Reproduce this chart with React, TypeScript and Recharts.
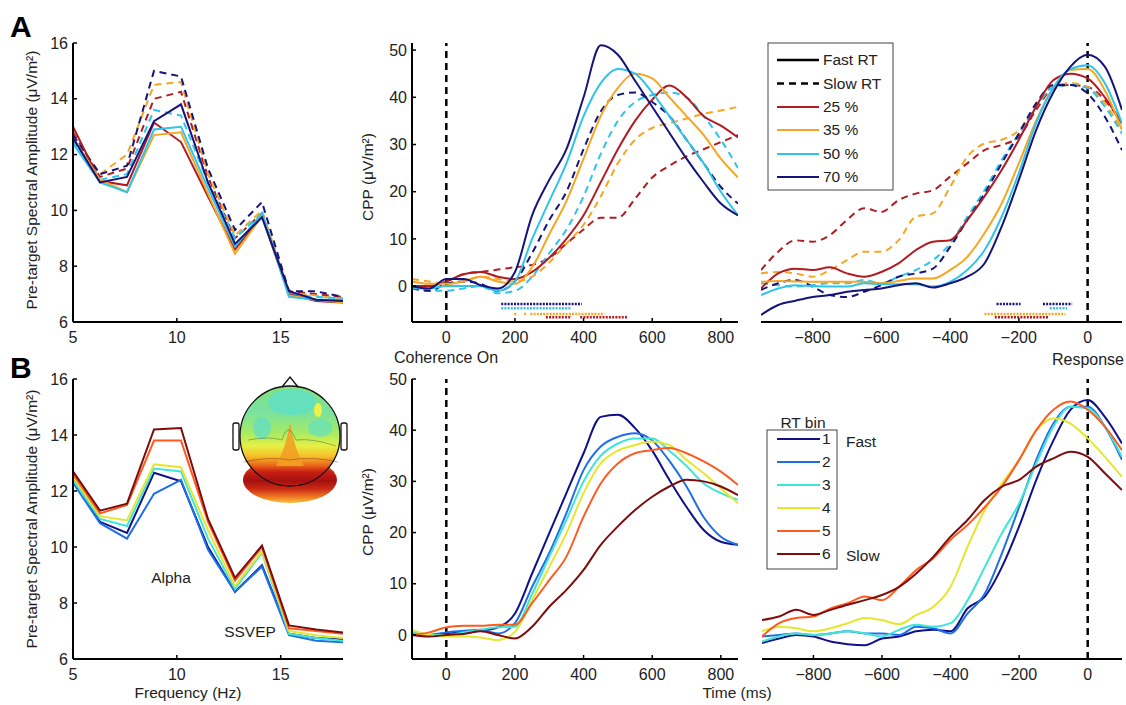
import React from 'react';
import { LineChart, Line, XAxis, YAxis, ReferenceLine } from 'recharts';

const FONT = '"Liberation Sans", Arial, Helvetica, sans-serif';

// ---- spectra (panel A/B left) ----
const freqHz = [5, 6.3, 7.6, 8.9, 10.2, 11.5, 12.8, 14.1, 15.4, 16.7, 18];

const specFast25 = [13.0, 11.05, 10.9, 13.15, 12.45, 10.5, 8.6, 9.8, 7.0, 6.75, 6.7];
const specFast35 = [12.6, 11.1, 10.65, 12.7, 12.8, 10.6, 8.45, 9.8, 6.95, 6.8, 6.7];
const specFast50 = [12.4, 11.0, 10.65, 12.9, 13.0, 10.8, 8.7, 9.9, 6.9, 6.8, 6.8];
const specFast70 = [12.6, 11.0, 11.2, 13.2, 13.8, 11.0, 8.8, 9.75, 7.1, 6.8, 6.75];
const specSlow25 = [12.8, 11.2, 11.5, 14.0, 14.25, 11.2, 9.0, 9.9, 7.1, 7.0, 6.9];
const specSlow35 = [12.7, 11.3, 12.0, 14.5, 14.6, 11.3, 9.1, 10.0, 7.05, 6.95, 6.8];
const specSlow50 = [12.5, 11.1, 11.3, 13.6, 13.4, 11.0, 9.0, 9.9, 7.0, 6.9, 6.85];
const specSlow70 = [12.7, 11.3, 11.6, 15.0, 14.8, 11.5, 9.3, 10.3, 7.1, 7.1, 6.9];

const specBin1 = [12.5, 10.9, 10.5, 12.65, 12.35, 10.0, 8.4, 9.35, 6.9, 6.75, 6.7];
const specBin2 = [12.3, 10.85, 10.3, 11.9, 12.4, 9.9, 8.4, 9.3, 6.85, 6.65, 6.6];
const specBin3 = [12.4, 11.0, 10.75, 12.8, 12.7, 10.3, 8.5, 9.8, 6.9, 6.75, 6.65];
const specBin4 = [12.5, 11.1, 10.95, 12.95, 12.85, 10.6, 8.6, 9.85, 7.0, 6.85, 6.75];
const specBin5 = [12.6, 11.2, 11.5, 13.8, 13.8, 10.9, 8.8, 10.0, 7.1, 7.0, 6.9];
const specBin6 = [12.7, 11.3, 11.55, 14.2, 14.25, 11.0, 8.9, 10.05, 7.2, 7.05, 6.95];

// ---- coherence-onset locked CPP (ms) ----
const tOnset = [-100, -50, 0, 50, 100, 150, 200, 250, 300, 350, 400, 450, 500, 550, 600, 650, 700, 750, 800, 850];

const onFast25 = [0, 0, 1, 2.5, 3, 2, 1.5, 3, 6, 10, 15, 22, 29, 35, 39.5, 42.5, 40, 36, 34, 31.5];
const onFast35 = [1, 0.5, 0.5, 1, 2, 1, 0.5, 4, 11, 18, 27, 36, 42, 45, 44, 40, 36, 32, 27, 23];
const onFast50 = [-0.5, -0.5, 0, 0, 0, -1, 1, 10, 18, 26, 36, 43, 46, 45, 41, 36, 31, 26, 20, 15];
const onFast70 = [0, -0.5, 1.5, 1.5, 0.2, -0.5, 3, 15, 22.5, 29, 40, 51, 49, 43.5, 38, 32.5, 27, 22, 17.5, 15];
const onSlow25 = [-0.5, 0, 1, 2.5, 3, 3.5, 4, 4.5, 6, 9, 12, 14.5, 14.5, 18.5, 23, 25.5, 27.5, 29, 30.5, 32];
const onSlow35 = [1.5, 1, 0.5, 1, 2, 1.5, 1, 2, 5, 9, 13, 19, 26, 31, 33.5, 34.5, 35.5, 36.5, 37.2, 38];
const onSlow50 = [0, -1, -1, -0.5, 0, -1.5, -1, 2, 7, 12, 19, 28, 35, 39, 40.5, 41, 40, 36, 31, 25];
const onSlow70 = [-0.5, -1, 0.5, 1, 0.5, -1, 1, 7, 14, 20, 29, 37, 40.5, 41, 39, 36, 31, 26, 21, 17.5];

const binOn1 = [0.3, 0, 0.3, 0.5, 0.8, 1.5, 4.2, 12, 19.9, 27.7, 35.5, 42.6, 43, 40.4, 36, 30.3, 25, 20.5, 18.2, 17.6];
const binOn2 = [0.5, 0, 0.5, 0.8, 1, 0.3, 2.3, 9.4, 16, 23.8, 32.2, 36.8, 38.7, 39.4, 38, 34, 29, 23, 19.2, 17.6];
const binOn3 = [0.5, 0, 0, 0.5, 1, 1.5, 1.6, 8, 15.3, 22.5, 30, 35, 37.4, 38.4, 38.4, 36, 33, 29.6, 27.7, 26.4];
const binOn4 = [1, 0, -0.3, -0.3, -0.5, -1, 0.6, 6.8, 13.3, 19.9, 27.7, 33.5, 36, 37.1, 37.8, 37.1, 34.2, 31.6, 28.6, 25.7];
const binOn5 = [0, 0.5, 1.5, 1.8, 1.8, 2, 2, 6.2, 10.7, 15.3, 23.1, 29.6, 33.5, 35.5, 36.1, 36.5, 35.5, 33.9, 31.9, 29.3];
const binOn6 = [0, -0.3, 0, 0.2, 0.7, 0, -0.7, 1.6, 5.5, 8.8, 12.7, 17.6, 21.2, 24.4, 27, 29, 30.3, 30, 29, 27.3];

// ---- response locked CPP (ms) ----
const tResp = [-950, -900, -850, -800, -750, -700, -650, -600, -550, -500, -450, -400, -350, -300, -250, -200, -150, -100, -50, 0, 50, 100];

const rFast25 = [-0.5, 2.7, 3.7, 3.4, 4, 2.7, 2, 3, 4.8, 7.6, 9.4, 9.7, 14, 19, 24.6, 31, 38, 43.6, 45, 44, 40, 34.5];
const rFast35 = [0.9, 1.1, 1, 0.9, 0.9, 0.9, 0.9, 0.6, 1.1, 1.6, 1.6, 3.4, 6.2, 11.2, 17.5, 26, 35, 42, 45.8, 46, 41.5, 33];
const rFast50 = [-1.9, -0.5, 0.2, 0, -0.1, -0.1, 0.6, 0.4, 0.4, 0.4, -0.1, 0.9, 3.4, 7.6, 14.7, 24, 34.5, 42, 46, 46.8, 43, 34.5];
const rFast70 = [-6.1, -4, -3.1, -2.3, -1.9, -1.2, -0.8, -0.5, 0.2, 0.6, -0.3, 0.6, 2, 4.8, 12.6, 22.5, 33, 41, 46.5, 49, 46.5, 37.3];
const rSlow25 = [3.4, 7.3, 9.7, 9.4, 10.8, 14, 16.5, 15.7, 18.2, 19.6, 20.3, 23.2, 26, 28.8, 29.9, 31.6, 37.3, 41.9, 42.6, 42.2, 39.4, 34.5];
const rSlow35 = [2.7, 3, 2.7, 2, 3.4, 5.5, 7.3, 7.3, 9.7, 14.7, 15.4, 21, 27.4, 30.2, 31, 33, 38, 42.2, 43, 42.2, 38.7, 33];
const rSlow50 = [0.6, 0.2, -0.1, 0.2, 0.6, 0.6, 1.3, 0.6, 2, 3.4, 5.5, 9, 14.7, 20.3, 26.7, 32.3, 38, 42.2, 42.6, 41.9, 38, 32.3];
const rSlow70 = [-0.8, 0.6, 1.3, -0.1, -1.9, -2.3, -1.2, 0.2, 2, 2.7, 3.7, 8.3, 14, 19.6, 26, 32.3, 38.7, 42.6, 42.6, 40.8, 35.9, 28.8];

const binR1 = [-1.6, -0.7, 0, -0.3, -1.3, -1.8, -2, -0.7, -0.3, 0.7, 1, 0.7, 5.2, 7.5, 13.3, 21.2, 30.3, 38, 44, 45.9, 42.6, 37.4];
const binR2 = [-0.3, 0, 0.3, 0, 0.3, 0.7, 0.3, 0.3, 0, 1.6, 1.3, 0.3, 4.2, 8.1, 16, 25, 34.2, 41.3, 44.6, 44.6, 40.7, 34.2];
const binR3 = [-1.3, -0.3, 0.3, 0, 0.3, 0.7, 0.3, -0.3, 1, 2, 1.6, 2.3, 6.8, 13.3, 19.9, 25.7, 33.5, 40.7, 44.6, 44.3, 40.7, 34.8];
const binR4 = [0.7, 1.6, 1.3, 0.7, 1.3, 2.3, 3.3, 2.9, 2.1, 3.9, 5.5, 9.4, 17.3, 24.4, 29.6, 34.2, 40, 42.3, 41.3, 38.4, 34.8, 30.9];
const binR5 = [-0.3, 2.3, 3.3, 3.6, 5.2, 6.2, 7.5, 6.8, 9.4, 12.7, 15, 18.6, 21.5, 25, 29, 34.2, 40, 44, 45.6, 44, 40.7, 36.1];
const binR6 = [2.9, 3.6, 4.9, 3.9, 4.9, 5.9, 6.8, 7.8, 9.4, 12, 15.3, 19.2, 22.5, 26.4, 29, 30.3, 32.9, 34.5, 35.8, 34.8, 31.6, 28.3];

// significance rows: [start, end] in ms, one row per coherence
const sigLevels = [-3.8, -4.7, -5.9, -6.6]; // 70, 50, 35, 25 %
const sigOn70 = [[160, 395]];
const sigOn50 = [[160, 365]];
const sigOn35 = [[198, 204], [227, 233], [245, 460]];
const sigOn25 = [[290, 365], [390, 530]];
const sigR70 = [[-265, -195], [-130, -45]];
const sigR50 = [[-110, -60]];
const sigR35 = [[-300, -65]];
const sigR25 = [[-270, -115]];

const cohLabels = ['25 %', '35 %', '50 %', '70 %'];
const binLabels = ['1', '2', '3', '4', '5', '6'];

const COH = ['#b01c22', '#f5a623', '#2ec4ec', '#14147a'];
const BIN = ['#10108a', '#1f6fe8', '#3fe6d6', '#e6e62e', '#ff5a1f', '#7d0d0d'];

type Pt = { x: number; y: number };
const pts = (xs: number[], ys: number[]): Pt[] => xs.map((x, i) => ({ x, y: ys[i] }));

interface Series { id: string; xs: number[]; ys: number[]; color: string; dashed?: boolean }
interface Sig { level: number; color: string; spans: number[][] }

const minus = (v: number) => (v < 0 ? '\u2212' + Math.abs(v) : String(v));

const tickStyle = { fill: '#222', fontSize: 16, fontFamily: FONT };

function Panel(props: {
  x: number; y: number; w: number; h: number;
  xDomain: number[]; yDomain: number[]; xTicks: number[]; yTicks?: number[];
  series: Series[]; sig?: Sig[]; zero?: boolean; curve: 'linear' | 'monotone';
}) {
  const { x, y, w, h, xDomain, yDomain, xTicks, yTicks, series, sig = [], zero, curve } = props;
  const top = 12, right = 14, xh = 40;
  const yw = yTicks ? 60 : 0;
  return (
    <div style={{ position: 'absolute', left: x - yw, top: y - top }}>
      <LineChart width={w + yw + right} height={h + top + xh} margin={{ top, right, bottom: 0, left: 0 }}>
        <XAxis
          type="number" dataKey="x" domain={xDomain} ticks={xTicks} interval={0} allowDataOverflow
          height={xh} tickSize={-4} tickMargin={14} tickFormatter={minus}
          axisLine={{ stroke: '#000', strokeWidth: 2 }} tickLine={{ stroke: '#000', strokeWidth: 1.5 }}
          tick={tickStyle}
        />
        <YAxis
          type="number" dataKey="y" domain={yDomain} ticks={yTicks} interval={0} allowDataOverflow
          width={yw} hide={!yTicks} tickSize={-4} tickMargin={9}
          axisLine={{ stroke: '#000', strokeWidth: 2 }} tickLine={{ stroke: '#000', strokeWidth: 1.5 }}
          tick={tickStyle}
        />
        {zero && <ReferenceLine x={0} stroke="#000" strokeWidth={2.5} strokeDasharray="7 5" />}
        {series.map((s) => (
          <Line
            key={s.id} data={pts(s.xs, s.ys)} dataKey="y" type={curve} stroke={s.color}
            strokeWidth={2} strokeDasharray={s.dashed ? '7 5' : undefined}
            dot={false} activeDot={false} isAnimationActive={false}
          />
        ))}
        {sig.flatMap((g, gi) =>
          g.spans.map((sp, si) => (
            <Line
              key={`sig${gi}-${si}`} data={[{ x: sp[0], y: g.level }, { x: sp[1], y: g.level }]}
              dataKey="y" type="linear" stroke={g.color} strokeWidth={2.6} strokeDasharray="2 1.2"
              dot={false} activeDot={false} isAnimationActive={false}
            />
          ))
        )}
      </LineChart>
    </div>
  );
}

const specA: Series[] = [
  { id: 's25', xs: freqHz, ys: specSlow25, color: COH[0], dashed: true },
  { id: 's35', xs: freqHz, ys: specSlow35, color: COH[1], dashed: true },
  { id: 's50', xs: freqHz, ys: specSlow50, color: COH[2], dashed: true },
  { id: 's70', xs: freqHz, ys: specSlow70, color: COH[3], dashed: true },
  { id: 'f25', xs: freqHz, ys: specFast25, color: COH[0] },
  { id: 'f35', xs: freqHz, ys: specFast35, color: COH[1] },
  { id: 'f50', xs: freqHz, ys: specFast50, color: COH[2] },
  { id: 'f70', xs: freqHz, ys: specFast70, color: COH[3] },
];
const onsetA: Series[] = [
  { id: 's25', xs: tOnset, ys: onSlow25, color: COH[0], dashed: true },
  { id: 's35', xs: tOnset, ys: onSlow35, color: COH[1], dashed: true },
  { id: 's50', xs: tOnset, ys: onSlow50, color: COH[2], dashed: true },
  { id: 's70', xs: tOnset, ys: onSlow70, color: COH[3], dashed: true },
  { id: 'f25', xs: tOnset, ys: onFast25, color: COH[0] },
  { id: 'f35', xs: tOnset, ys: onFast35, color: COH[1] },
  { id: 'f50', xs: tOnset, ys: onFast50, color: COH[2] },
  { id: 'f70', xs: tOnset, ys: onFast70, color: COH[3] },
];
const respA: Series[] = [
  { id: 's25', xs: tResp, ys: rSlow25, color: COH[0], dashed: true },
  { id: 's35', xs: tResp, ys: rSlow35, color: COH[1], dashed: true },
  { id: 's50', xs: tResp, ys: rSlow50, color: COH[2], dashed: true },
  { id: 's70', xs: tResp, ys: rSlow70, color: COH[3], dashed: true },
  { id: 'f25', xs: tResp, ys: rFast25, color: COH[0] },
  { id: 'f35', xs: tResp, ys: rFast35, color: COH[1] },
  { id: 'f50', xs: tResp, ys: rFast50, color: COH[2] },
  { id: 'f70', xs: tResp, ys: rFast70, color: COH[3] },
];
const specB = [specBin1, specBin2, specBin3, specBin4, specBin5, specBin6].map((ys, i) => ({ id: 'b' + i, xs: freqHz, ys, color: BIN[i] }));
const onsetB = [binOn1, binOn2, binOn3, binOn4, binOn5, binOn6].map((ys, i) => ({ id: 'b' + i, xs: tOnset, ys, color: BIN[i] }));
const respB = [binR1, binR2, binR3, binR4, binR5, binR6].map((ys, i) => ({ id: 'b' + i, xs: tResp, ys, color: BIN[i] }));

const sigOnset: Sig[] = [
  { level: sigLevels[0], color: COH[3], spans: sigOn70 },
  { level: sigLevels[1], color: COH[2], spans: sigOn50 },
  { level: sigLevels[2], color: COH[1], spans: sigOn35 },
  { level: sigLevels[3], color: COH[0], spans: sigOn25 },
];
const sigResp: Sig[] = [
  { level: sigLevels[0], color: COH[3], spans: sigR70 },
  { level: sigLevels[1], color: COH[2], spans: sigR50 },
  { level: sigLevels[2], color: COH[1], spans: sigR35 },
  { level: sigLevels[3], color: COH[0], spans: sigR25 },
];

function Topo() {
  const stops: [number, string][] = [
    [386, '#86e07a'], [412, '#78e2a0'], [432, '#a4ea66'], [446, '#e6f044'], [456, '#f7c02a'],
    [465, '#ea6a1a'], [472, '#c81e14'], [481, '#a51010'], [489, '#cc2a14'], [497, '#f07a22'], [506, '#f8e850'],
  ];
  return (
    <g>
      <defs>
        <linearGradient id="topoG" gradientUnits="userSpaceOnUse" x1={0} y1={386} x2={0} y2={506}>
          {stops.map(([yy, c]) => <stop key={yy} offset={(yy - 386) / 120} stopColor={c} />)}
        </linearGradient>
      </defs>
      <ellipse cx={290} cy={480} rx={47} ry={23} fill="url(#topoG)" />
      <circle cx={290} cy={436} r={50} fill="url(#topoG)" />
      <ellipse cx={292} cy={402} rx={24} ry={13} fill="#5fdfc4" opacity={0.85} />
      <ellipse cx={262} cy={428} rx={9} ry={11} fill="#64dfc0" opacity={0.8} />
      <ellipse cx={320} cy={428} rx={12} ry={9} fill="#64dfc0" opacity={0.7} />
      <ellipse cx={318} cy={410} rx={4} ry={7} fill="#eef048" />
      <path d="M276 466 Q286 448 290 422 Q294 448 304 466 Z" fill="#f2a024" opacity={0.9} />
      <path d="M248 440 Q270 436 282 440 Q288 420 296 440 Q312 438 336 446" fill="none" stroke="#3d6a3d" strokeWidth={0.7} opacity={0.7} />
      <path d="M244 462 Q270 456 290 460 Q312 456 338 462" fill="none" stroke="#6a3010" strokeWidth={0.7} opacity={0.6} />
      <circle cx={290} cy={436} r={50} fill="none" stroke="#111" strokeWidth={1.3} />
      <path d="M282 387 L290 377 L298 387" fill="none" stroke="#111" strokeWidth={1.3} />
      <rect x={233} y={423} width={6} height={27} rx={2} fill="none" stroke="#111" strokeWidth={1.3} />
      <rect x={341} y={423} width={6} height={27} rx={2} fill="none" stroke="#111" strokeWidth={1.3} />
    </g>
  );
}

const txt = { fontFamily: FONT, fill: '#222' } as const;

export default function App() {
  const legA = ['Fast RT', 'Slow RT', ...cohLabels];
  const legAY = [60, 83.5, 107, 130, 154, 177];
  const legBY = [439, 462, 485, 508, 531, 554];
  return (
    <div style={{ position: 'absolute', left: 0, top: 0, width: 1126, height: 705, background: '#fff', overflow: 'hidden' }}>
      <Panel x={73} y={43} w={270} h={279} xDomain={[5, 18]} yDomain={[6, 16]} xTicks={[5, 10, 15]} yTicks={[6, 8, 10, 12, 14, 16]} series={specA} curve="linear" />
      <Panel x={412} y={43} w={326} h={279} xDomain={[-100, 850]} yDomain={[-7.6, 51.5]} xTicks={[0, 200, 400, 600, 800]} yTicks={[0, 10, 20, 30, 40, 50]} series={onsetA} sig={sigOnset} zero curve="monotone" />
      <Panel x={761} y={43} w={361} h={279} xDomain={[-950, 100]} yDomain={[-7.6, 51.5]} xTicks={[-800, -600, -400, -200, 0]} series={respA} sig={sigResp} zero curve="monotone" />
      <Panel x={73} y={379} w={270} h={280} xDomain={[5, 18]} yDomain={[6, 16]} xTicks={[5, 10, 15]} yTicks={[6, 8, 10, 12, 14, 16]} series={specB} curve="linear" />
      <Panel x={412} y={379} w={326} h={280} xDomain={[-100, 850]} yDomain={[-4.7, 50]} xTicks={[0, 200, 400, 600, 800]} yTicks={[0, 10, 20, 30, 40, 50]} series={onsetB} zero curve="monotone" />
      <Panel x={762} y={379} w={360} h={280} xDomain={[-950, 100]} yDomain={[-4.7, 50]} xTicks={[-800, -600, -400, -200, 0]} series={respB} zero curve="monotone" />

      <svg width={1126} height={705} style={{ position: 'absolute', left: 0, top: 0, pointerEvents: 'none' }}>
        <text x={10} y={37} fontSize={30} fontWeight="bold" fontFamily={FONT} fill="#000">A</text>
        <text x={10} y={378} fontSize={30} fontWeight="bold" fontFamily={FONT} fill="#000">B</text>

        <text {...txt} fontSize={15.5} textAnchor="middle" transform="translate(37 180) rotate(-90)">Pre-target Spectral Amplitude (μV/m²)</text>
        <text {...txt} fontSize={15.5} textAnchor="middle" transform="translate(37 519) rotate(-90)">Pre-target Spectral Amplitude (μV/m²)</text>
        <text {...txt} fontSize={15.5} textAnchor="middle" transform="translate(373 177) rotate(-90)">CPP (μV/m²)</text>
        <text {...txt} fontSize={15.5} textAnchor="middle" transform="translate(373 512) rotate(-90)">CPP (μV/m²)</text>

        <text {...txt} fontSize={16} x={394} y={363}>Coherence On</text>
        <text {...txt} fontSize={16} x={1124} y={365} textAnchor="end">Response</text>
        <text {...txt} fontSize={15.5} x={188} y={698} textAnchor="middle">Frequency (Hz)</text>
        <text {...txt} fontSize={15.5} x={737} y={698} textAnchor="middle">Time (ms)</text>
        <text {...txt} fontSize={15.5} x={171} y={583} textAnchor="middle">Alpha</text>
        <text {...txt} fontSize={15.5} x={250} y={637} textAnchor="middle">SSVEP</text>

        <Topo />

        <rect x={768} y={43} width={125} height={147} fill="#fff" stroke="#444" strokeWidth={1} />
        {legA.map((lab, i) => (
          <g key={lab}>
            <line x1={777} x2={819} y1={legAY[i]} y2={legAY[i]}
              stroke={i < 2 ? '#000' : COH[i - 2]} strokeWidth={i < 2 ? 2.5 : 2.2}
              strokeDasharray={i === 1 ? '7 5' : undefined} />
            <text {...txt} fontSize={15.5} x={823} y={legAY[i] + 5}>{lab}</text>
          </g>
        ))}

        <text {...txt} fontSize={15.5} x={803} y={428} textAnchor="middle">RT bin</text>
        <rect x={767} y={430} width={70} height={139} fill="#fff" stroke="#444" strokeWidth={1} />
        {binLabels.map((lab, i) => (
          <g key={lab}>
            <line x1={777} x2={820} y1={legBY[i]} y2={legBY[i]} stroke={BIN[i]} strokeWidth={2.2} />
            <text {...txt} fontSize={15.5} x={822} y={legBY[i] + 5}>{lab}</text>
          </g>
        ))}
        <text {...txt} fontSize={15.5} x={846} y={447}>Fast</text>
        <text {...txt} fontSize={15.5} x={846} y={561}>Slow</text>
      </svg>
    </div>
  );
}
